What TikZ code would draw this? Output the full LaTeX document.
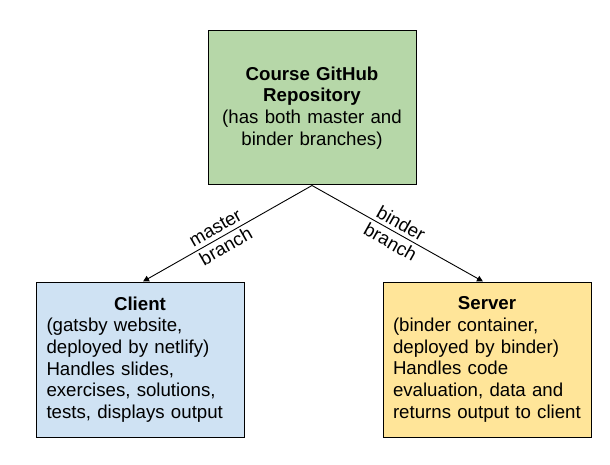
\documentclass[tikz,border=0pt]{standalone}
\usepackage{fontspec}
\setmainfont{Liberation Sans}
\usetikzlibrary{arrows.meta}
\definecolor{repogreen}{HTML}{B6D7A8}
\definecolor{clientblue}{HTML}{CFE2F3}
\definecolor{serveryellow}{HTML}{FFE599}
\tikzset{
  boxnode/.style={draw=black, line width=1pt, rectangle, inner sep=10pt,
    minimum width=208pt, minimum height=155pt,
    font=\fontsize{18.67}{21.7}\selectfont},
  conn/.style={line width=0.9pt, -{Triangle[length=6pt,width=6pt]}},
  connlabel/.style={sloped, align=center, inner sep=1pt,
    font=\fontsize{18.67}{21.7}\selectfont}
}
\begin{document}
\begin{tikzpicture}[x=1pt,y=1pt]
\useasboundingbox (0,0) rectangle (610,-465);
\node[boxnode, fill=repogreen, text width=188pt, align=center, minimum height=154pt]
  (repo) at (312,-108)
  {\textbf{Course GitHub}\\\textbf{Repository}\\(has both master and\\binder branches)};
\node[boxnode, fill=clientblue, text width=187pt, inner sep=10.5pt, align=left]
  (client) at (140,-359.5)
  {\makebox[187pt][c]{\textbf{Client}}\\(gatsby website,\\deployed by netlify)\\Handles slides,\\exercises, solutions,\\tests, displays output};
\node[boxnode, fill=serveryellow, text width=188pt, align=left]
  (server) at (487,-359.5)
  {\makebox[188pt][c]{\textbf{Server}}\\(binder container,\\deployed by binder)\\Handles code\\evaluation, data and\\returns output to client};
\draw[conn] (repo.south) -- ([xshift=3pt]client.north)
  node[connlabel, pos=0.54] {master\\branch};
\draw[conn] (repo.south) -- ([xshift=-4pt]server.north)
  node[connlabel, pos=0.49] {binder\\branch};
\end{tikzpicture}
\end{document}
